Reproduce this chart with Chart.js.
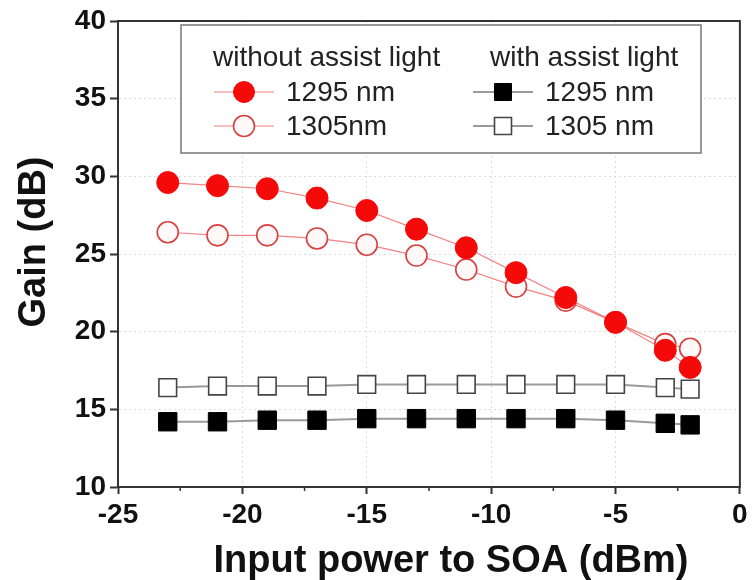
<!DOCTYPE html>
<html>
<head>
<meta charset="utf-8">
<script src="https://cdn.jsdelivr.net/npm/chart.js@4/dist/chart.umd.min.js"></script>
<style>
  html, body { margin: 0; padding: 0; background: #fff; }
  #wrap { width: 754px; height: 580px; }
</style>
</head>
<body>
<div id="wrap"><canvas id="gainChart" width="754" height="580"></canvas></div>
<script>
// input power to SOA (dBm)
var inputPower = [-23, -21, -19, -17, -15, -13, -11, -9, -7, -5, -3, -2]
// gain (dB)
var gainNoAssist1295 = [29.6, 29.4, 29.2, 28.6, 27.8, 26.6, 25.4, 23.8, 22.2, 20.6, 18.8, 17.7]
var gainNoAssist1305 = [26.4, 26.2, 26.2, 26.0, 25.6, 24.9, 24.0, 22.9, 22.0, 20.6, 19.2, 18.9]
var gainAssist1295 = [14.2, 14.2, 14.3, 14.3, 14.4, 14.4, 14.4, 14.4, 14.4, 14.3, 14.1, 14.0]
var gainAssist1305 = [16.4, 16.5, 16.5, 16.5, 16.6, 16.6, 16.6, 16.6, 16.6, 16.6, 16.4, 16.3]

var xTicks = [-25, -20, -15, -10, -5, 0]
var yTicks = [10, 15, 20, 25, 30, 35, 40]

var xTitle = 'Input power to SOA (dBm)'
var yTitle = 'Gain (dB)'
var legendHeaders = ['without assist light', 'with assist light']
var legendLabels = ['1295 nm', '1305nm', '1295 nm', '1305 nm']

var fontFamily = '"Liberation Sans", Arial, sans-serif'

function toPoints(ys) {
    var pts = []
    for (let i in inputPower) {
        pts.push({x: inputPower[i], y: ys[i]})
    }
    return pts
}

var datasets = [
    {
        label: legendLabels[0],
        data: toPoints(gainNoAssist1295),
        borderColor: 'rgba(235,90,90,0.75)',
        borderWidth: 1.2,
        pointStyle: 'circle',
        pointRadius: 11,
        pointBackgroundColor: '#f50a0a',
        pointBorderColor: '#f50a0a',
        pointBorderWidth: 1,
        order: 0
    },
    {
        label: legendLabels[1],
        data: toPoints(gainNoAssist1305),
        borderColor: 'rgba(235,90,90,0.75)',
        borderWidth: 1.2,
        pointStyle: 'circle',
        pointRadius: 10.5,
        pointBackgroundColor: '#fff8f8',
        pointBorderColor: '#d84040',
        pointBorderWidth: 1.6,
        order: 1
    },
    {
        label: legendLabels[2],
        data: toPoints(gainAssist1295),
        borderColor: '#9a9a9a',
        borderWidth: 2,
        pointStyle: 'rect',
        pointRadius: 13,
        pointBackgroundColor: '#000',
        pointBorderColor: '#000',
        pointBorderWidth: 1,
        order: 2
    },
    {
        label: legendLabels[3],
        data: toPoints(gainAssist1305),
        borderColor: '#9a9a9a',
        borderWidth: 2,
        pointStyle: 'rect',
        pointRadius: 12.5,
        pointBackgroundColor: '#fff',
        pointBorderColor: '#444',
        pointBorderWidth: 1.6,
        order: 3
    }
]

// box round the plot, minor ticks on x, and the two axis titles
var framePlugin = {
    id: 'frame',
    afterDraw: function(chart) {
        var ctx = chart.ctx
        var a = chart.chartArea
        ctx.save()
        ctx.strokeStyle = '#333'
        ctx.lineWidth = 2
        ctx.strokeRect(a.left, a.top, a.right - a.left, a.bottom - a.top)
        var xs = chart.scales.x
        ctx.lineWidth = 1.5
        ctx.beginPath()
        for (var i = 0; i < xs.ticks.length - 1; i++) {
            var mid = (xs.ticks[i].value + xs.ticks[i + 1].value) / 2
            var px = xs.getPixelForValue(mid)
            ctx.moveTo(px, a.bottom)
            ctx.lineTo(px, a.bottom + 4)
        }
        ctx.stroke()

        ctx.fillStyle = '#111'
        ctx.font = 'bold 38px ' + fontFamily
        ctx.textAlign = 'center'
        ctx.textBaseline = 'middle'
        ctx.fillText(xTitle, a.left + 333, chart.height - 18)
        ctx.translate(35, a.top + 221)
        ctx.rotate(-Math.PI / 2)
        ctx.fillText(yTitle, 0, 0)
        ctx.restore()
    }
}

function drawMarker(ctx, ds, x, y, r) {
    ctx.beginPath()
    if (ds.pointStyle === 'circle') {
        ctx.arc(x, y, r, 0, Math.PI * 2)
    } else {
        ctx.rect(x - r, y - r, 2 * r, 2 * r)
    }
    ctx.fillStyle = ds.pointBackgroundColor
    ctx.fill()
    ctx.lineWidth = ds.pointBorderWidth
    ctx.strokeStyle = ds.pointBorderColor
    ctx.stroke()
}

// two-column legend with headers, inside the plot
var legendPlugin = {
    id: 'boxLegend',
    afterDraw: function(chart) {
        var ctx = chart.ctx
        var a = chart.chartArea
        var bx = a.left + 63, by = a.top + 4
        var bw = 520, bh = 128
        ctx.save()
        ctx.fillStyle = '#fff'
        ctx.fillRect(bx, by, bw, bh)
        ctx.strokeStyle = '#777'
        ctx.lineWidth = 1.5
        ctx.strokeRect(bx, by, bw, bh)

        ctx.font = '28px ' + fontFamily
        ctx.fillStyle = '#222'
        ctx.textBaseline = 'middle'
        ctx.fillText(legendHeaders[0], bx + 32, by + 33)
        ctx.fillText(legendHeaders[1], bx + 309, by + 33)

        var cols = [bx + 63, bx + 322]
        var rows = [by + 67, by + 101]
        var ds = chart.data.datasets
        for (var i = 0; i < 4; i++) {
            var cx = cols[Math.floor(i / 2)]
            var cy = rows[i % 2]
            ctx.beginPath()
            ctx.moveTo(cx - 30, cy)
            ctx.lineTo(cx + 30, cy)
            ctx.lineWidth = ds[i].borderWidth
            ctx.strokeStyle = ds[i].borderColor
            ctx.stroke()
            drawMarker(ctx, ds[i], cx, cy, ds[i].pointStyle === 'circle' ? 10.5 : 8.5)
            ctx.fillStyle = '#222'
            ctx.fillText(ds[i].label, cx + 42, cy + 1)
        }
        ctx.restore()
    }
}

const cfg = {
    type: 'line',
    data: { datasets: datasets },
    options: {
        responsive: false,
        animation: false,
        layout: { padding: { top: 21, right: 11, left: 0, bottom: 0 } },
        plugins: {
            legend: { display: false },
            tooltip: { enabled: false }
        },
        scales: {
            x: {
                type: 'linear',
                min: xTicks[0],
                max: xTicks[xTicks.length - 1],
                afterBuildTicks: function(s) { s.ticks = xTicks.map(function(v) { return {value: v} }) },
                afterFit: function(s) { s.height = 93 },
                ticks: {
                    padding: 4,
                    color: '#111',
                    font: { family: fontFamily, size: 28, weight: 'bold' },
                    maxRotation: 0
                },
                grid: { color: '#dcdcdc', lineWidth: 1, tickColor: '#333', tickLength: 7, tickWidth: 2 },
                border: { color: '#333', width: 2, dash: [2, 3] }
            },
            y: {
                type: 'linear',
                min: yTicks[0],
                max: yTicks[yTicks.length - 1],
                afterBuildTicks: function(s) { s.ticks = yTicks.map(function(v) { return {value: v} }) },
                afterFit: function(s) { s.width = 118 },
                ticks: {
                    padding: 4,
                    color: '#111',
                    font: { family: fontFamily, size: 28, weight: 'bold' }
                },
                grid: { color: '#dcdcdc', lineWidth: 1, tickColor: '#333', tickLength: 8, tickWidth: 2 },
                border: { color: '#333', width: 2, dash: [2, 3] }
            }
        }
    },
    plugins: [framePlugin, legendPlugin]
};

const gainChart = new Chart(document.getElementById('gainChart'), cfg);
</script>
</body>
</html>
